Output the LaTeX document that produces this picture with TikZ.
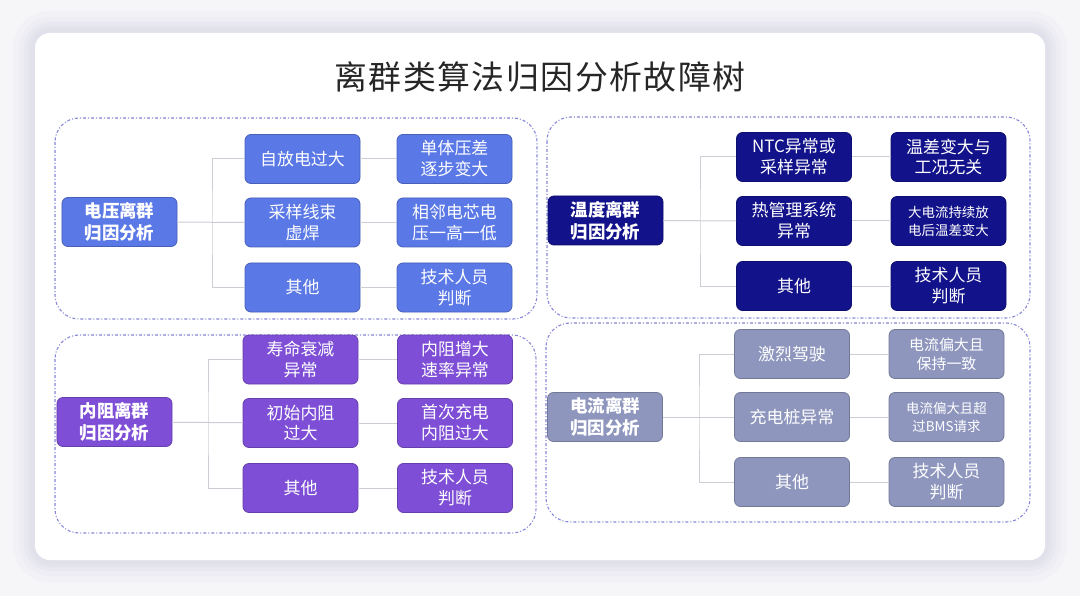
\documentclass[tikz,border=0pt]{standalone}
\usepackage{fontspec}
\setmainfont{Noto Sans CJK SC}
\usetikzlibrary{calc}

\definecolor{voltblue}{HTML}{5A78E6}
\definecolor{tempnavy}{HTML}{12128A}
\definecolor{resviolet}{HTML}{7E4FD6}
\definecolor{curgray}{HTML}{8E96BE}
\definecolor{framedash}{HTML}{8686DA}
\definecolor{linkgray}{HTML}{CDCDD6}
\definecolor{pagegray}{HTML}{F6F6F9}
\definecolor{halo}{HTML}{DCDCE8}

\newcommand{\tsp}{\hspace{1.5bp}}

\begin{document}
\begin{tikzpicture}[x=1bp, y=-1bp,
    box/.style={rounded corners=6bp, minimum width=115bp, minimum height=49bp,
      inner sep=0pt, align=center, text=white, line width=0.8bp,
      font=\fontsize{17}{21}\selectfont},
    rootbox/.style={box, font=\bfseries\fontsize{17.5}{22}\selectfont},
    small/.style={font=\fontsize{13.5}{18}\selectfont},
    midsmall/.style={font=\fontsize{15}{19}\selectfont},
    volt/.style={fill=voltblue, draw=voltblue!80!black},
    temp/.style={fill=tempnavy, draw=tempnavy!80!black},
    res/.style={fill=resviolet, draw=resviolet!80!black},
    cur/.style={fill=curgray, draw=curgray!80!black},
    frame/.style={draw=framedash, line width=1.1bp, rounded corners=24bp,
      dash pattern=on 3bp off 2bp on 1bp off 2bp},
    link/.style={draw=linkgray, line width=1bp}]

  % page, shadow and card
  \fill[pagegray] (0,0) rectangle (1080,596);
  \foreach \s/\o in {22/0.15,16/0.2,11/0.25,7/0.3,4/0.35}
    \fill[halo, opacity=\o, rounded corners=15bp+\s bp]
      (35-\s,33-\s) rectangle (1045+\s,560+\s);
  \fill[white, rounded corners=15bp] (35,33) rectangle (1045,560);

  \node[font=\fontsize{33}{36}\selectfont, text=black!85] (title) at (540,77)
    {离\tsp 群\tsp 类\tsp 算\tsp 法\tsp 归\tsp 因\tsp 分\tsp 析\tsp 故\tsp 障\tsp 树};

  % dashed groups
  \draw[frame] (55,118) rectangle (537,319);
  \draw[frame] (547,117) rectangle (1030,318);
  \draw[frame] (55,335) rectangle (536,533);
  \draw[frame] (546,323) rectangle (1030,522);

  % voltage
  \node[rootbox, volt] (vr) at (119.5,222) {电压离群\\归因分析};
  \node[box, volt] (vm1) at (302.5,159) {自放电过大};
  \node[box, volt] (vm2) at (302.5,222.5) {采样线束\\虚焊};
  \node[box, volt] (vm3) at (302.5,287.5) {其他};
  \node[box, volt] (vd1) at (454.5,159) {单体压差\\逐步变大};
  \node[box, volt] (vd2) at (454.5,222.5) {相邻电芯电\\压一高一低};
  \node[box, volt] (vd3) at (454.5,287.5) {技术人员\\判断};
  \coordinate (vj) at (212,222.5);

  % temperature
  \node[rootbox, temp] (tr) at (605.5,220.5) {温度离群\\归因分析};
  \node[box, temp] (tm1) at (794,157) {NTC异常或\\采样异常};
  \node[box, temp] (tm2) at (794,221) {热管理系统\\异常};
  \node[box, temp] (tm3) at (794,286) {其他};
  \node[box, temp] (td1) at (948.5,157) {温差变大与\\工况无关};
  \node[box, temp, small] (td2) at (948.5,221) {大电流持续放\\电后温差变大};
  \node[box, temp] (td3) at (948.5,286) {技术人员\\判断};
  \coordinate (tj) at (700,221);

  % internal resistance
  \node[rootbox, res] (rr) at (114.5,422) {内阻离群\\归因分析};
  \node[box, res] (rm1) at (300.5,359.5) {寿命衰减\\异常};
  \node[box, res] (rm2) at (300.5,423) {初始内阻\\过大};
  \node[box, res] (rm3) at (300.5,488) {其他};
  \node[box, res] (rd1) at (455,359.5) {内阻增大\\速率异常};
  \node[box, res] (rd2) at (455,423) {首次充电\\内阻过大};
  \node[box, res] (rd3) at (455,488) {技术人员\\判断};
  \coordinate (rj) at (208,423);

  % current
  \node[rootbox, cur] (cr) at (605,417) {电流离群\\归因分析};
  \node[box, cur] (cm1) at (792,354) {激烈驾驶};
  \node[box, cur] (cm2) at (792,417) {充电桩异常};
  \node[box, cur] (cm3) at (792,482) {其他};
  \node[box, cur, midsmall] (cd1) at (946.5,354) {电流偏大且\\保持一致};
  \node[box, cur, small] (cd2) at (946.5,417) {电流偏大且超\\过BMS请求};
  \node[box, cur] (cd3) at (946.5,482) {技术人员\\判断};
  \coordinate (cj) at (699,417);

  % connectors
  \foreach \g in {v,t,r,c} {
    \draw[link] (\g r) -- (\g m2);
    \draw[link] (\g m1.west) -| (\g j) |- (\g m3.west);
    \foreach \i in {1,2,3}
      \draw[link] (\g m\i) -- (\g d\i);
  }
\end{tikzpicture}
\end{document}
